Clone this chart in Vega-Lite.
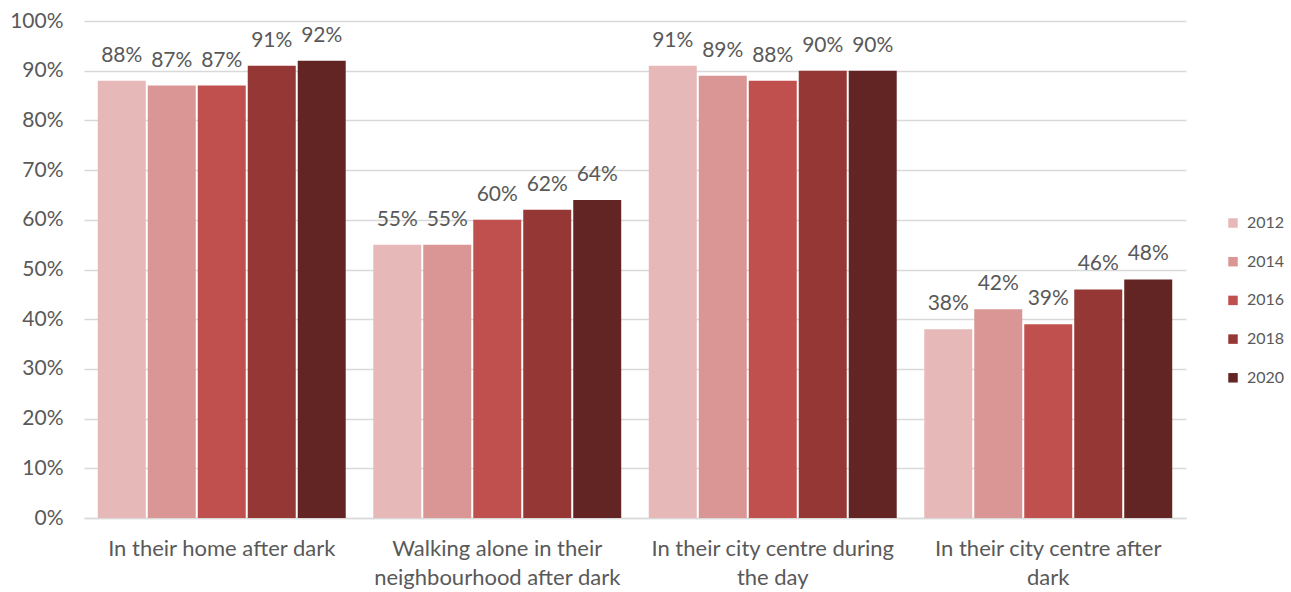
{
  "$schema": "https://vega.github.io/schema/vega-lite/v6.json",
  "width": 1102,
  "height": 497,
  "autosize": {"type": "none"},
  "padding": {"left": 84, "top": 21, "right": 105, "bottom": 74},
  "background": "white",
  "config": {
    "view": {"stroke": null},
    "font": "Lato",
    "text": {"font": "Lato"}
  },
  "data": {
    "values": [
      {"category": "In their home after dark", "year": "2012", "value": 0.88},
      {"category": "In their home after dark", "year": "2014", "value": 0.87},
      {"category": "In their home after dark", "year": "2016", "value": 0.87},
      {"category": "In their home after dark", "year": "2018", "value": 0.91},
      {"category": "In their home after dark", "year": "2020", "value": 0.92},
      {"category": "Walking alone in their neighbourhood after dark", "year": "2012", "value": 0.55},
      {"category": "Walking alone in their neighbourhood after dark", "year": "2014", "value": 0.55},
      {"category": "Walking alone in their neighbourhood after dark", "year": "2016", "value": 0.60},
      {"category": "Walking alone in their neighbourhood after dark", "year": "2018", "value": 0.62},
      {"category": "Walking alone in their neighbourhood after dark", "year": "2020", "value": 0.64},
      {"category": "In their city centre during the day", "year": "2012", "value": 0.91},
      {"category": "In their city centre during the day", "year": "2014", "value": 0.89},
      {"category": "In their city centre during the day", "year": "2016", "value": 0.88},
      {"category": "In their city centre during the day", "year": "2018", "value": 0.90},
      {"category": "In their city centre during the day", "year": "2020", "value": 0.90},
      {"category": "In their city centre after dark", "year": "2012", "value": 0.38},
      {"category": "In their city centre after dark", "year": "2014", "value": 0.42},
      {"category": "In their city centre after dark", "year": "2016", "value": 0.39},
      {"category": "In their city centre after dark", "year": "2018", "value": 0.46},
      {"category": "In their city centre after dark", "year": "2020", "value": 0.48}
    ]
  },
  "encoding": {
    "x": {
      "field": "category",
      "type": "nominal",
      "sort": null,
      "title": null,
      "scale": {"paddingInner": 0.1, "paddingOuter": 0.05},
      "axis": {
        "labelAngle": 0,
        "labelFontSize": 22,
        "labelColor": "#595959",
        "labelPadding": 20,
        "labelLineHeight": 29,
        "labelLimit": 0,
        "ticks": false,
        "domainColor": "#D9D9D9",
        "domainWidth": 1.5,
        "labelExpr": "datum.value == 'Walking alone in their neighbourhood after dark' ? ['Walking alone in their', 'neighbourhood after dark'] : datum.value == 'In their city centre during the day' ? ['In their city centre during', 'the day'] : datum.value == 'In their city centre after dark' ? ['In their city centre after', 'dark'] : datum.value"
      }
    },
    "xOffset": {"field": "year", "type": "nominal", "scale": {"paddingInner": 0.04}},
    "y": {
      "field": "value",
      "type": "quantitative",
      "title": null,
      "scale": {"domain": [0, 1]},
      "axis": {
        "values": [0, 0.1, 0.2, 0.3, 0.4, 0.5, 0.6, 0.7, 0.8, 0.9, 1.0],
        "format": ".0%",
        "labelFontSize": 21,
        "labelColor": "#595959",
        "labelPadding": 21,
        "ticks": false,
        "domain": false,
        "gridColor": "#D9D9D9",
        "gridWidth": 1.5
      }
    }
  },
  "layer": [
    {
      "mark": {"type": "bar"},
      "encoding": {
        "color": {
          "field": "year",
          "type": "nominal",
          "title": null,
          "scale": {
            "domain": ["2012", "2014", "2016", "2018", "2020"],
            "range": ["#E6B9B8", "#DA9694", "#C0504D", "#953735", "#632523"]
          },
          "legend": {
            "orient": "none",
            "legendX": 1141,
            "legendY": 194,
            "symbolType": "square",
            "symbolSize": 90,
            "symbolStrokeWidth": 0,
            "labelFontSize": 16,
            "labelColor": "#595959",
            "rowPadding": 22.7,
            "labelOffset": 6
          }
        }
      }
    },
    {
      "mark": {"type": "text", "dy": -25, "fontSize": 21, "color": "#595959"},
      "encoding": {
        "text": {"field": "value", "type": "quantitative", "format": ".0%"}
      }
    }
  ]
}
